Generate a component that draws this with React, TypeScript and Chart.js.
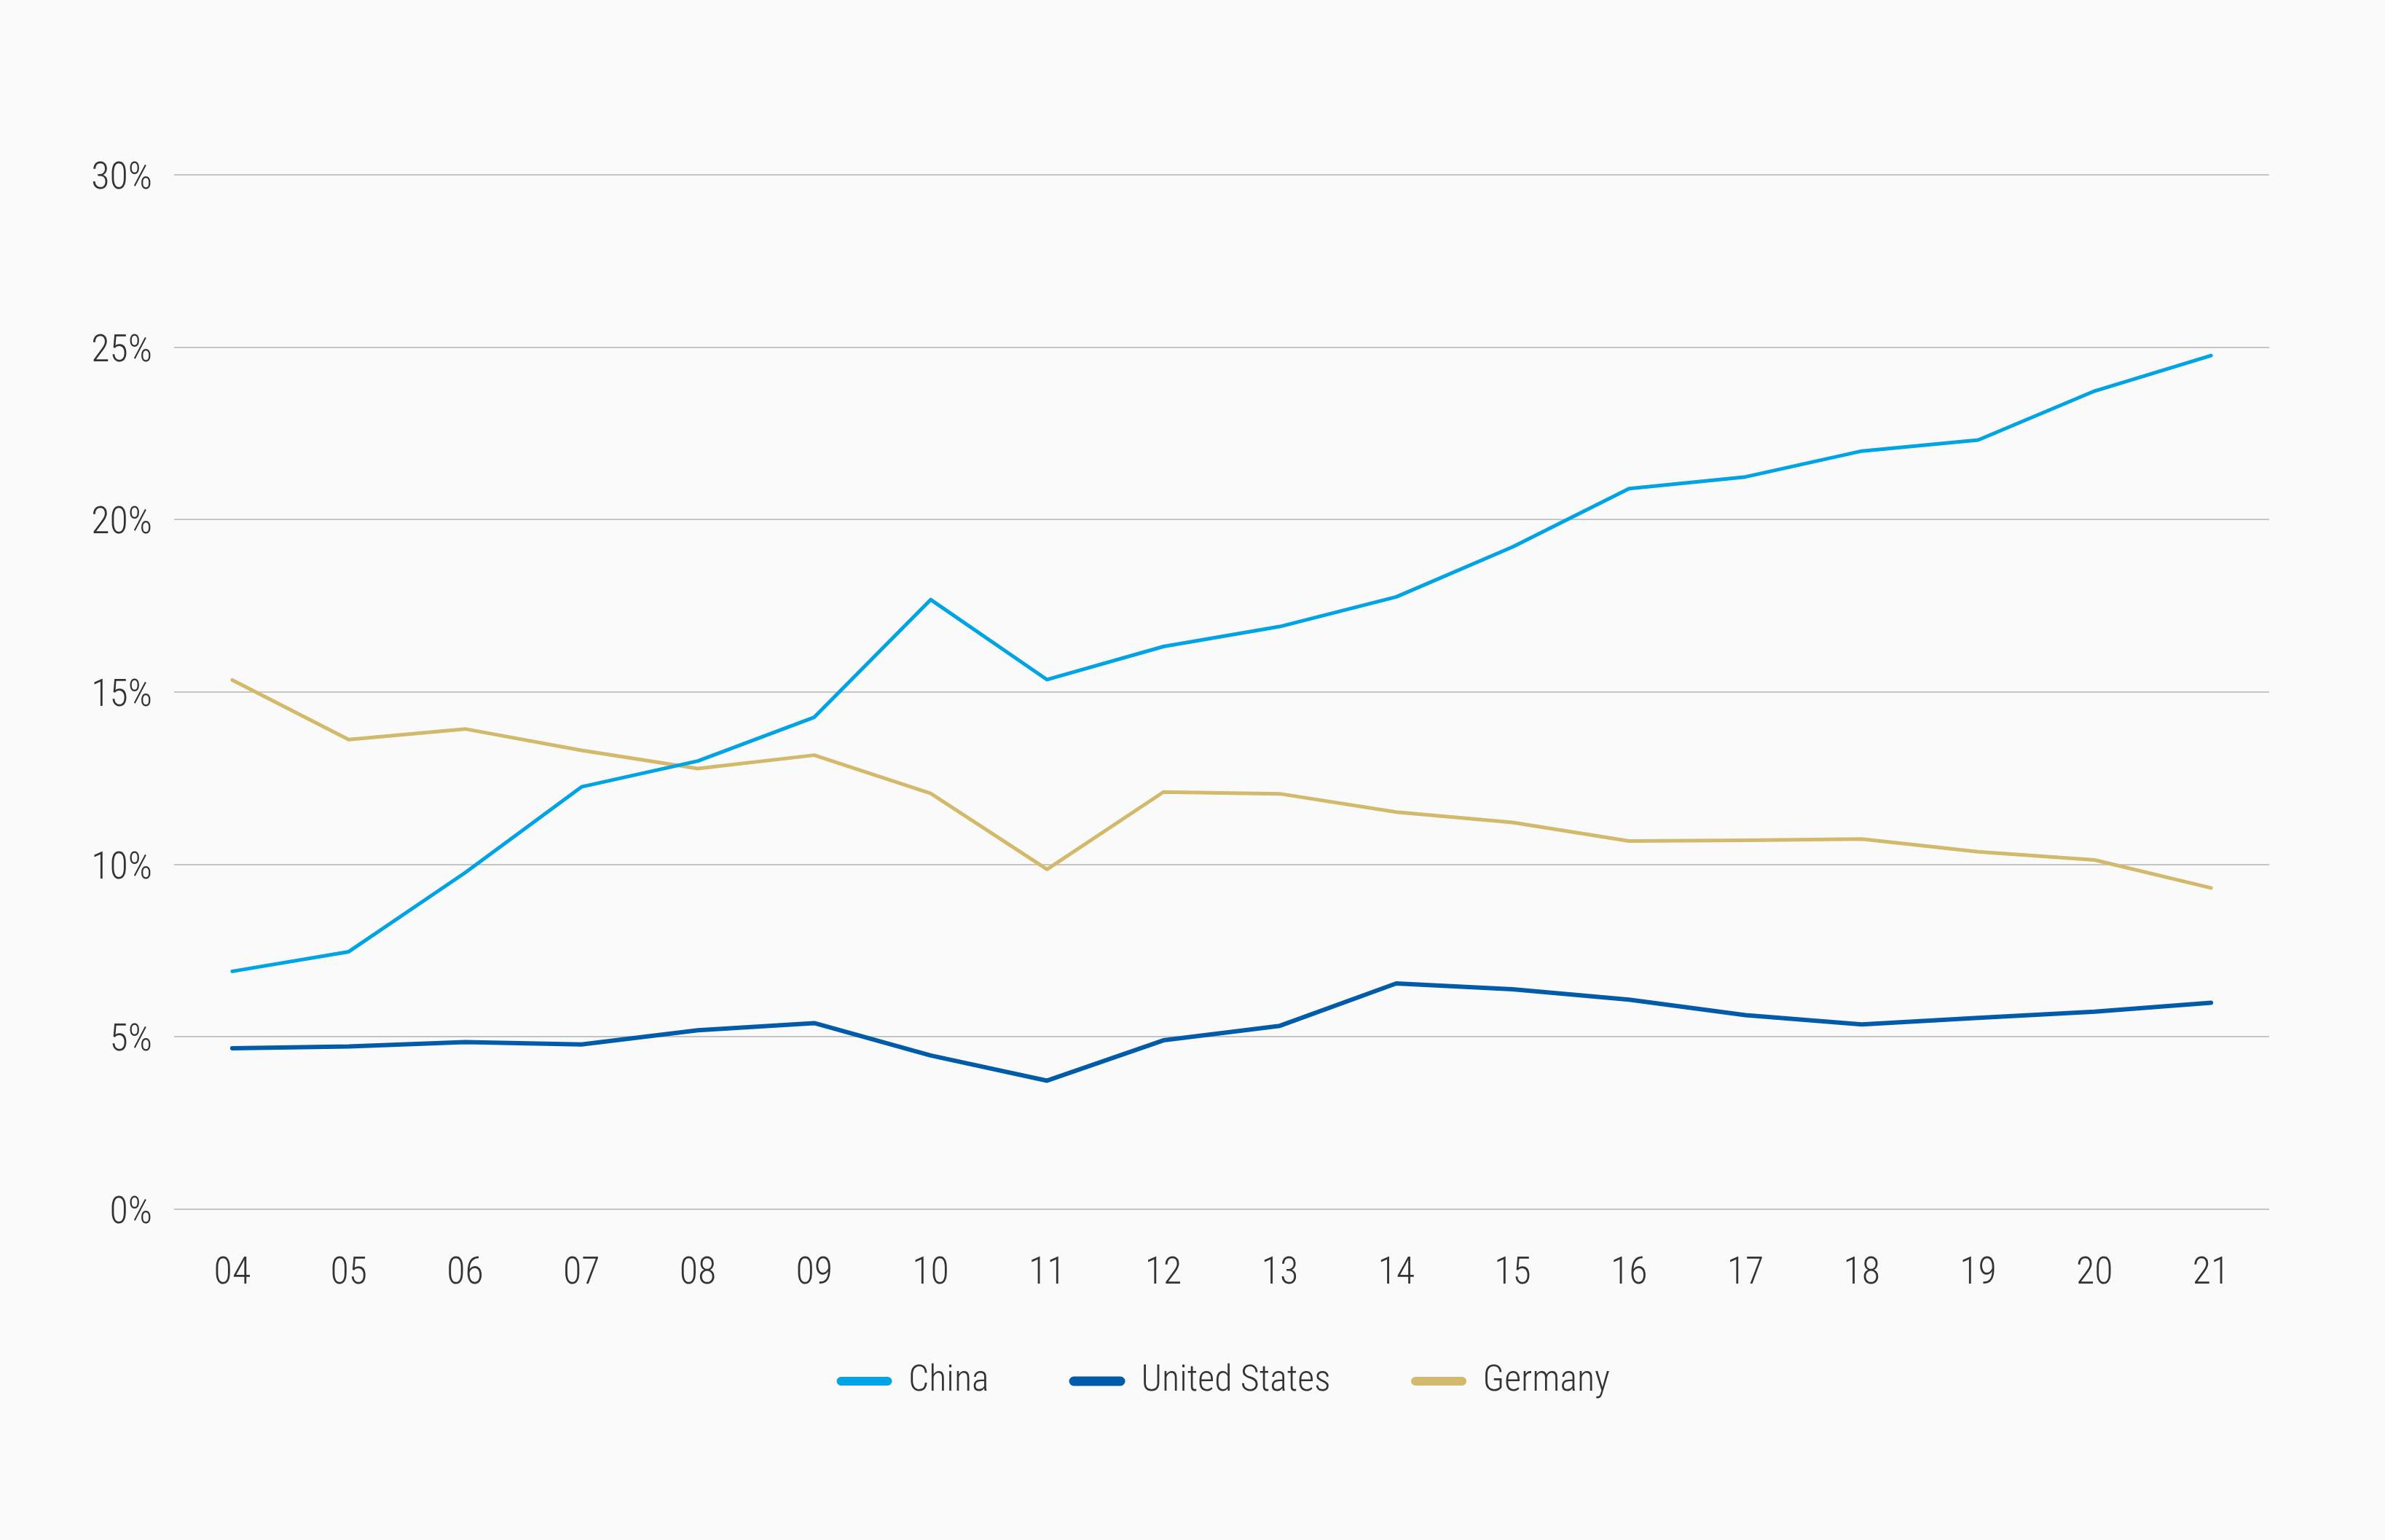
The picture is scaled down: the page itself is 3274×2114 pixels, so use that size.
import React, { useEffect, useRef } from "react";
import { Chart, registerables } from "chart.js";

Chart.register(...registerables);

const categories = ["04", "05", "06", "07", "08", "09", "10", "11", "12", "13", "14", "15", "16", "17", "18", "19", "20", "21"];
const china = [6.9, 7.47, 9.76, 12.25, 13.0, 14.27, 17.68, 15.36, 16.32, 16.9, 17.76, 19.21, 20.9, 21.24, 21.99, 22.31, 23.73, 24.76];
const unitedStates = [4.67, 4.72, 4.85, 4.78, 5.19, 5.4, 4.46, 3.73, 4.9, 5.32, 6.55, 6.38, 6.08, 5.63, 5.36, 5.55, 5.73, 5.99];
const germany = [15.35, 13.62, 13.93, 13.31, 12.78, 13.17, 12.06, 9.86, 12.1, 12.05, 11.52, 11.22, 10.68, 10.7, 10.74, 10.37, 10.13, 9.32];
const yTicks = [0, 5, 10, 15, 20, 25, 30];

const FONT = "'Roboto Condensed', 'Roboto', sans-serif";

const legendShift = {
  id: "legendShift",
  afterLayout(chart: any) {
    const lg = chart.legend;
    if (lg) {
      lg.top -= 38;
      lg.bottom -= 38;
      lg.left += 123;
      lg.right += 123;
    }
  },
};

export default function App() {
  const ref = useRef<HTMLCanvasElement | null>(null);
  useEffect(() => {
    document.body.style.margin = "0";
    document.body.style.background = "#FAFAFA";
    const ctx = ref.current!.getContext("2d")!;
    const chart = new Chart(ctx, {
      type: "line",
      data: {
        labels: categories,
        datasets: [
          { label: "China", data: china, borderColor: "#00A3E3", backgroundColor: "#00A3E3", borderWidth: 5 },
          { label: "United States", data: unitedStates, borderColor: "#005BA8", backgroundColor: "#005BA8", borderWidth: 6 },
          { label: "Germany", data: germany, borderColor: "#D3B96B", backgroundColor: "#D3B96B", borderWidth: 5 },
        ],
      },
      plugins: [legendShift],
      options: {
        animation: false,
        responsive: false,
        devicePixelRatio: 1,
        elements: {
          point: { radius: 0 },
          line: { tension: 0, borderCapStyle: "round", borderJoinStyle: "round" },
        },
        layout: { padding: { top: 240, right: 159, bottom: 145, left: 0 } },
        plugins: {
          tooltip: { enabled: false },
          legend: {
            position: "bottom",
            labels: {
              boxWidth: 71,
              boxHeight: 7,
              useBorderRadius: true,
              borderRadius: 3.5,
              padding: 113,
              color: "#333333",
              font: { family: FONT, size: 50, weight: 300 },
            },
          },
        },
        scales: {
          x: {
            offset: true,
            grid: { display: false, drawTicks: false },
            border: { display: false },
            ticks: { color: "#333333", font: { family: FONT, size: 52, weight: 300 }, padding: 58, maxRotation: 0 },
            afterFit: (s: any) => { s.height = 136; },
          },
          y: {
            min: 0,
            max: 30,
            afterBuildTicks: (s: any) => { s.ticks = yTicks.map((v) => ({ value: v })); },
            grid: { color: "#C6C6C6", lineWidth: 2, drawTicks: false },
            border: { display: false },
            ticks: { color: "#333333", font: { family: FONT, size: 52, weight: 300 }, padding: 30, labelOffset: 6, callback: (v: any) => v + "%" },
            afterFit: (s: any) => { s.width = 239; },
          },
        },
      },
    });
    return () => chart.destroy();
  }, []);
  return (
    <div style={{ width: 3274, height: 2114, background: "#FAFAFA" }}>
      <canvas ref={ref} width={3274} height={2114} style={{ display: "block" }} />
    </div>
  );
}
